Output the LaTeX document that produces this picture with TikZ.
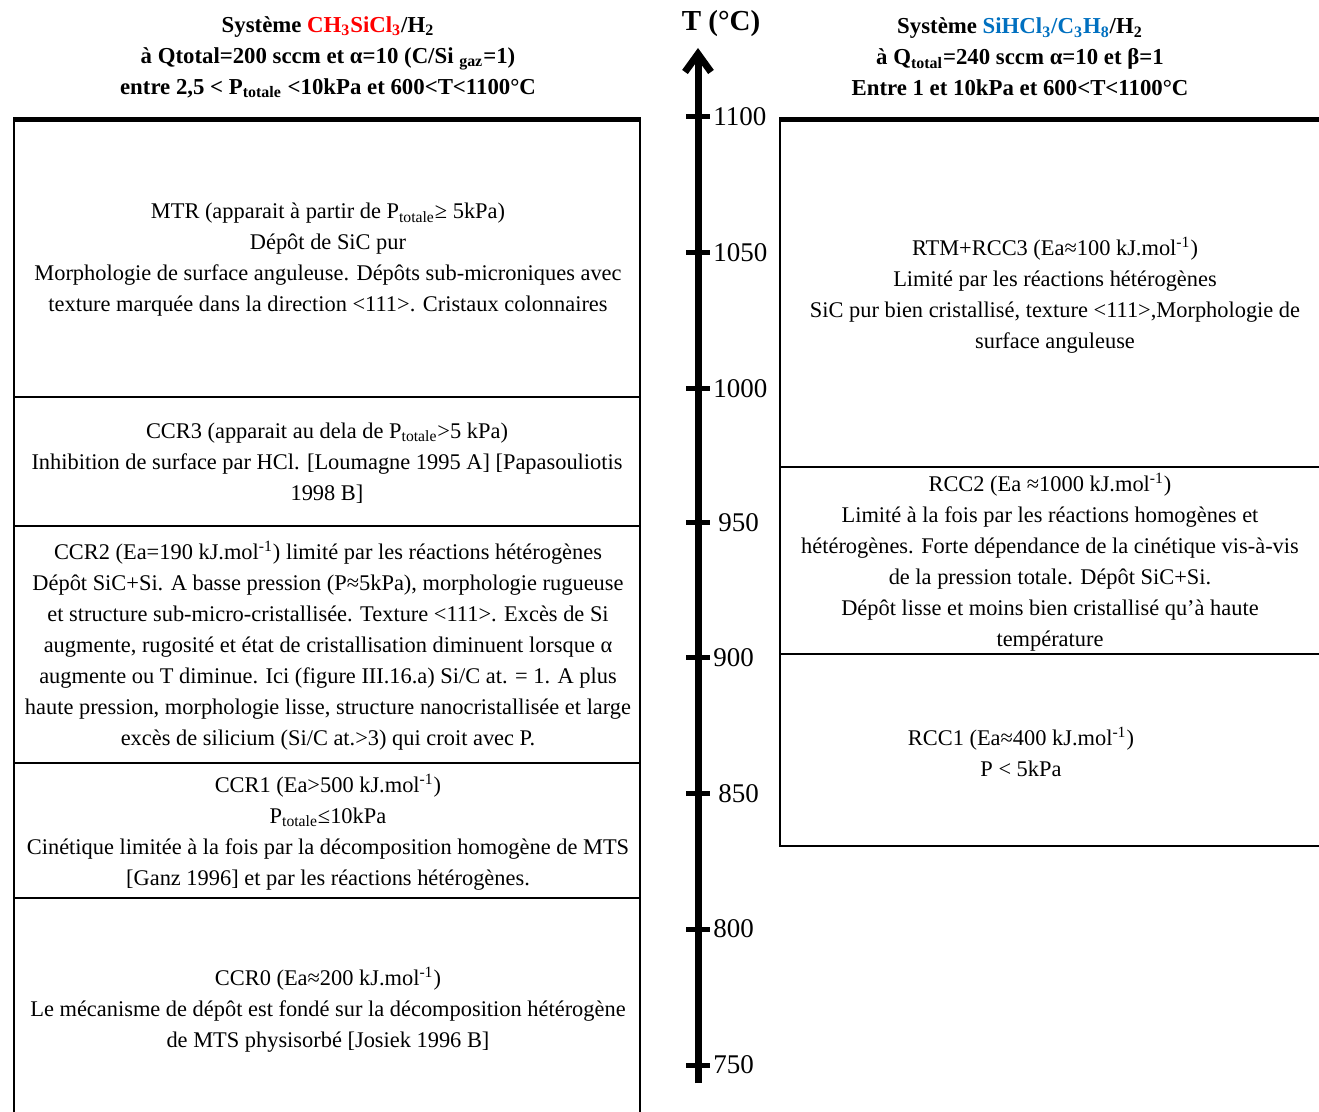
\documentclass[tikz,border=0pt]{standalone}
\usepackage{fontspec}
\setmainfont{Liberation Serif}
\usetikzlibrary{arrows.meta}
\definecolor{hred}{RGB}{255,0,0}
\definecolor{hblue}{RGB}{0,112,192}
\tikzset{
  body/.style={align=center, font=\fontsize{11.2}{15.5}\selectfont, inner sep=0pt},
  head/.style={align=center, font=\bfseries\fontsize{11.4}{15.5}\selectfont, inner sep=0pt},
  ticklab/.style={anchor=west, font=\fontsize{13.5}{15}\selectfont, inner sep=0pt},
  framel/.style={line width=1pt},
  topbar/.style={line width=2.5pt},
  axisline/.style={line width=3.5pt, -{Straight Barb[length=9pt,width=13pt]}},
  tickmark/.style={line width=2.5pt},
}
\begin{document}
\begin{tikzpicture}[x=0.5pt,y=-0.5pt]
\useasboundingbox (0,0) rectangle (1319,1112);

% ---------- headers ----------
\node[head] (hl) at (328,57) {Système \textcolor{hred}{CH\textsubscript{3}SiCl\textsubscript{3}}/H\textsubscript{2}\\
à Qtotal=200 sccm et α=10 (C/Si \textsubscript{gaz}=1)\\
entre 2,5 < P\textsubscript{totale} <10kPa et 600<T<1100°C};
\node[head] (hr) at (1020,57) {Système \textcolor{hblue}{SiHCl\textsubscript{3}/C\textsubscript{3}H\textsubscript{8}}/H\textsubscript{2}\\
à Q\textsubscript{total}=240 sccm α=10 et β=1\\
Entre 1 et 10kPa et 600<T<1100°C};
\node[font=\bfseries\fontsize{14.5}{16}\selectfont, inner sep=0pt] (tlab) at (721,24) {T (°C)};

% ---------- left table ----------
\draw[framel] (14,120) -- (14,1112);
\draw[framel] (640,120) -- (640,1112);
\draw[framel] (14,397) -- (640,397);
\draw[framel] (14,526) -- (640,526);
\draw[framel] (14,763) -- (640,763);
\draw[framel] (14,898) -- (640,898);
\draw[topbar] (13,120) -- (641,120);

\node[body] (l1) at (328,260) {MTR (apparait à partir de  P\textsubscript{totale}≥ 5kPa)\\
Dépôt de SiC pur\\
Morphologie  de surface anguleuse. Dépôts sub-microniques  avec\\
texture marquée dans la direction <111>. Cristaux colonnaires};
\node[body] (l2) at (327,463) {CCR3 (apparait au dela de P\textsubscript{totale}>5 kPa)\\
Inhibition  de surface par HCl. [Loumagne 1995 A] [Papasouliotis\\
1998 B]};
\node[body] (l3) at (328,646) {CCR2 (Ea=190 kJ.mol\textsuperscript{-1}) limité  par les réactions hétérogènes\\
Dépôt SiC+Si.  A basse pression (P≈5kPa), morphologie  rugueuse\\
et structure sub-micro-cristallisée.  Texture <111>.  Excès de Si\\
augmente, rugosité et état de cristallisation  diminuent  lorsque  α\\
augmente ou T diminue.  Ici (figure III.16.a) Si/C at. = 1.  A plus\\
haute pression, morphologie  lisse, structure nanocristallisée et large\\
excès de silicium  (Si/C at.>3) qui croit avec P.};
\node[body] (l4) at (328,832) {CCR1 (Ea>500 kJ.mol\textsuperscript{-1})\\
P\textsubscript{totale}≤10kPa\\
Cinétique limitée  à la fois par la décomposition homogène de MTS\\{}%
[Ganz 1996] et par les réactions hétérogènes.};
\node[body] (l5) at (328,1010) {CCR0 (Ea≈200 kJ.mol\textsuperscript{-1})\\
Le mécanisme de dépôt est fondé sur la décomposition hétérogène\\
de MTS physisorbé  [Josiek 1996 B]};

% ---------- right table ----------
\draw[framel] (780,120) -- (780,846) -- (1319,846);
\draw[framel] (780,467) -- (1319,467);
\draw[framel] (780,654) -- (1319,654);
\draw[topbar] (779,120) -- (1319,120);

\node[body] (r1) at (1055,295) {RTM+RCC3 (Ea≈100 kJ.mol\textsuperscript{-1})\\
Limité  par les réactions hétérogènes\\
SiC pur bien cristallisé,  texture <111>,Morphologie  de\\
surface anguleuse};
\node[body] (r2) at (1050,562) {RCC2 (Ea ≈1000 kJ.mol\textsuperscript{-1})\\
Limité à la fois par les réactions homogènes et\\
hétérogènes. Forte dépendance de la cinétique  vis-à-vis\\
de la pression totale.  Dépôt SiC+Si.\\
Dépôt lisse et moins bien cristallisé  qu’à haute\\
température};
\node[body] (r3) at (1021,752) {RCC1 (Ea≈400 kJ.mol\textsuperscript{-1})\\
P < 5kPa};

% ---------- temperature axis ----------
\coordinate (axbot) at (698,1083);
\coordinate (axtop) at (698,48);
\draw[axisline] (axbot) -- (axtop);
\foreach \t/\y/\dx in {1100/117/0, 1050/253/0, 1000/389/0, 950/523/5, 900/658/0, 850/794/5, 800/929/0, 750/1065/0}{
  \coordinate (tk\t) at (698,\y);
  \draw[tickmark] ([xshift=-6pt]tk\t) -- ([xshift=6pt]tk\t);
  \node[ticklab] (lab\t) at ([xshift=7.5pt+\dx*0.5pt]tk\t) {\t};
}
\end{tikzpicture}
\end{document}
